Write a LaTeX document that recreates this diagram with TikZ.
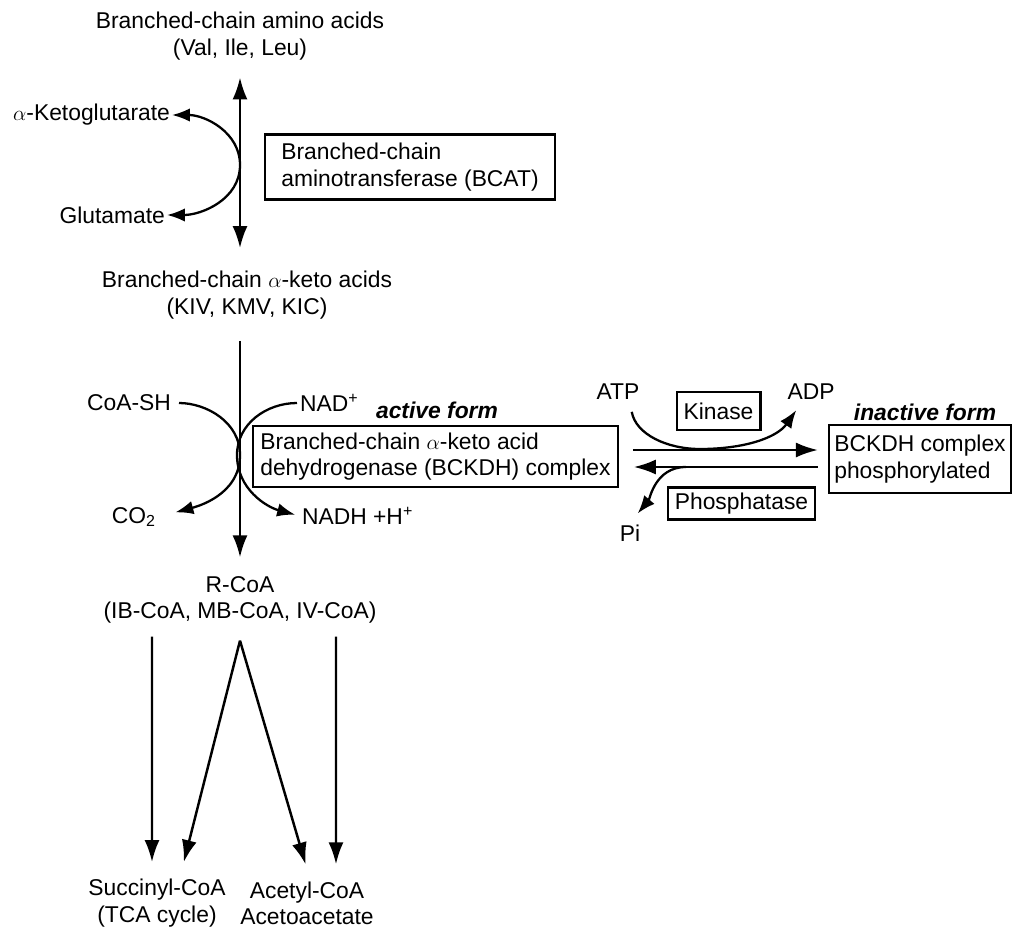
\documentclass[tikz,border=0pt]{standalone}
\usepackage{fontspec}
\setmainfont{Liberation Sans}
\usepackage{xcolor}
\usepackage{tikz}
\usetikzlibrary{positioning, arrows.meta, calc}
\tikzset{
  chem/.style={
    inner sep=1pt, align=center,
    font=\fontsize{13}{15}\selectfont
  },
  enzbox/.style={
    rectangle, draw=black, line width=1.2pt,
    inner xsep=4pt, inner ysep=3pt,
    align=left,
    font=\fontsize{13}{15}\selectfont
  },
  formtag/.style={
    inner sep=1pt,
    font=\fontsize{13}{15}\selectfont\bfseries\itshape
  },
  flow/.style={
    -{Latex[length=4.4mm, width=3mm]},
    line width=1.4pt
  },
  twoway/.style={
    {Latex[length=4.4mm, width=3mm]}-{Latex[length=4.4mm, width=3mm]},
    line width=1.4pt
  },
  sidearrow/.style={
    -{Latex[length=3.6mm, width=2.7mm]},
    line width=1.3pt
  }
}
\begin{document}
\begin{tikzpicture}[x=0.02cm, y=0.02cm]
      \useasboundingbox (0,0) rectangle (1014,-930);
      \node[chem] (aa) at (240,-36) {Branched-chain amino acids\\(Val, Ile, Leu)};
      \node[chem, anchor=east] (ketog) at (172,-115) {$\alpha$-Ketoglutarate};
      \node[chem, anchor=east] (glut) at (167,-215) {Glutamate};
      \node[enzbox, minimum width=5.8cm, minimum height=1.3cm] (bcat) at (410,-167) {Branched-chain\\aminotransferase (BCAT)};
      \node[chem] (keto) at (247,-295) {Branched-chain $\alpha$-keto acids\\(KIV, KMV, KIC)};
      \node[chem, anchor=east] (coash) at (173,-403) {CoA-SH};
      \node[chem, anchor=west] (nad) at (298,-403) {NAD\textsuperscript{+}};
      \node[chem, anchor=east] (co2) at (158,-517) {CO\textsubscript{2}};
      \node[chem, anchor=west] (nadh) at (300,-516) {NADH +H\textsuperscript{+}};
      \node[formtag] (activetag) at (437,-410) {active form};
      \node[enzbox, minimum width=7.1cm, minimum height=1.22cm] (bckdh) at (435.5,-456.5) {Branched-chain $\alpha$-keto acid\\dehydrogenase (BCKDH) complex};
      \node[chem] (atp) at (618,-392) {ATP};
      \node[chem] (adp) at (811,-392) {ADP};
      \node[enzbox, align=center, minimum width=1.66cm, minimum height=0.76cm] (kinase) at (718.5,-411) {Kinase};
      \node[enzbox, align=center, inner ysep=1pt, minimum width=2.94cm, minimum height=0.64cm] (phos) at (741.5,-503.5) {Phosphatase};
      \node[chem] (pi) at (630,-533) {Pi};
      \node[formtag] (inacttag) at (925,-412) {inactive form};
      \node[enzbox, inner xsep=3pt, minimum width=3.64cm, minimum height=1.36cm] (inact) at (920,-459) {BCKDH complex\\phosphorylated};
      \node[chem] (rcoa) at (240,-600) {R-CoA\\(IB-CoA, MB-CoA, IV-CoA)};
      \node[chem] (succ) at (157,-903) {Succinyl-CoA\\(TCA cycle)};
      \node[chem] (acet) at (307,-903) {Acetyl-CoA\\Acetoacetate};
      \coordinate (bcatTouch) at (240,-165);
      \coordinate (crossL) at (240,-455);
      \coordinate (crossR) at (237,-455);
      \coordinate (kinJoin) at (700,-449);
      \coordinate (phosJoin) at (686,-467);
      \coordinate (fork) at ([yshift=-0.3cm]rcoa.south);
      \draw[twoway, shorten <=0.31cm, shorten >=0.42cm] (aa.south) -- (aa.south |- keto.north);
      \draw[sidearrow] (bcatTouch) to[out=90, in=0] (ketog.east);
      \draw[sidearrow] (bcatTouch) to[out=-90, in=0] (glut.east);
      \draw[flow, shorten <=0.4cm, shorten >=0.34cm] (keto.south -| bcatTouch) -- (rcoa.north -| bcatTouch);
      \draw[sidearrow, shorten <=0.12cm, shorten >=0.36cm] (coash.east) to[out=0, in=90] (crossL) to[out=-90, in=15] (co2.east);
      \draw[sidearrow, shorten <=0.02cm, shorten >=0.1cm] (nad.west) to[out=180, in=90] (crossR) to[out=-90, in=165] (nadh.west);
      \draw[flow, shorten <=0.28cm, shorten >=0.2cm] ([yshift=0.13cm]bckdh.east) -- ([yshift=0.13cm]bckdh.east -| inact.west);
      \draw[flow, shorten <=0.2cm, shorten >=0.3cm] ([yshift=-0.21cm]bckdh.east -| inact.west) -- ([yshift=-0.21cm]bckdh.east);
      \draw[sidearrow, shorten <=0.2cm, shorten >=0.2cm] ([xshift=0.24cm]atp.south) to[out=-80, in=180] (kinJoin) to[out=0, in=-125] ([xshift=-0.18cm]adp.south);
      \draw[sidearrow, shorten >=0.24cm] (phosJoin) to[out=180, in=50] (pi.north);
      \draw[flow, shorten <=0.22cm, shorten >=0.3cm] ([xshift=-1.76cm]rcoa.south) -- ([xshift=-0.1cm]succ.north);
      \draw[flow, shorten >=0.31cm] (fork) -- ([xshift=0.46cm]succ.north);
      \draw[flow, shorten >=0.31cm] (fork) -- ([xshift=0.06cm]acet.north);
      \draw[flow, shorten <=0.22cm, shorten >=0.3cm] ([xshift=1.92cm]rcoa.south) -- ([xshift=0.58cm]acet.north);
    \end{tikzpicture}
\end{document}
